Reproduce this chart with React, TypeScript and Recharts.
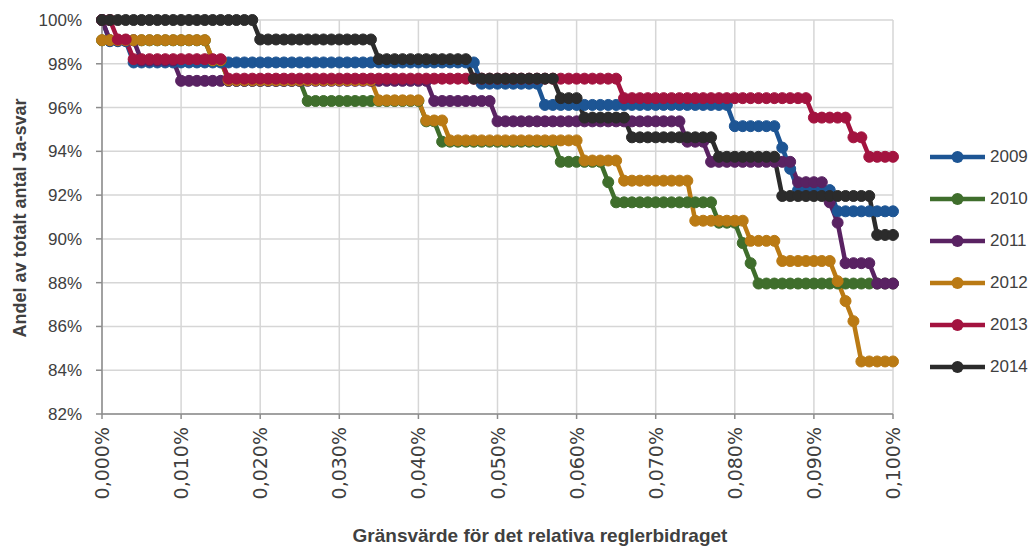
import { LineChart, Line, XAxis, YAxis, CartesianGrid, Label } from 'recharts';

// Gränsvärden 0,000% .. 0,100% i steg om 0,001%
const thresholds = Array.from({ length: 101 }, (_, i) => Number((i * 0.001).toFixed(3)));

// Andel Ja-svar som [värde i %, antal gränsvärden i följd med det värdet]
const runs2009 = [
  [100, 1], [99.03, 3], [98.06, 44], [97.09, 8], [96.12, 24], [95.15, 6],
  [94.17, 1], [93.2, 1], [92.23, 5], [91.26, 8],
];
const runs2010 = [
  [99.07, 14], [98.15, 2], [97.22, 10], [96.3, 15], [95.37, 2], [94.44, 15],
  [93.52, 6], [92.59, 1], [91.67, 13], [90.74, 3], [89.81, 1], [88.89, 1], [87.96, 18],
];
const runs2011 = [
  [100, 1], [99.07, 4], [98.15, 5], [97.22, 32], [96.3, 8], [95.37, 24],
  [94.44, 3], [93.52, 11], [92.59, 4], [91.67, 1], [90.74, 1], [88.89, 4], [87.96, 3],
];
const runs2012 = [
  [99.08, 14], [98.17, 2], [97.25, 19], [96.33, 6], [95.41, 3], [94.5, 17],
  [93.58, 5], [92.66, 9], [90.83, 7], [89.91, 4], [88.99, 7], [88.07, 1],
  [87.16, 1], [86.24, 1], [84.4, 5],
];
const runs2013 = [
  [100, 2], [99.11, 2], [98.21, 12], [97.32, 50], [96.43, 24], [95.54, 5],
  [94.64, 2], [93.75, 4],
];
const runs2014 = [
  [100, 20], [99.11, 15], [98.21, 12], [97.32, 11], [96.43, 3], [95.54, 6],
  [94.64, 11], [93.75, 8], [91.96, 12], [90.18, 3],
];

const xTicks = [0, 0.01, 0.02, 0.03, 0.04, 0.05, 0.06, 0.07, 0.08, 0.09, 0.1];
const yTicks = [82, 84, 86, 88, 90, 92, 94, 96, 98, 100];

const series = [
  { name: '2009', color: '#1d5594', runs: runs2009 },
  { name: '2010', color: '#3f6e2c', runs: runs2010 },
  { name: '2011', color: '#592262', runs: runs2011 },
  { name: '2012', color: '#ba7a14', runs: runs2012 },
  { name: '2013', color: '#a3133f', runs: runs2013 },
  { name: '2014', color: '#2b2b2b', runs: runs2014 },
];

const expand = (runs: number[][]) => runs.flatMap(([v, n]) => Array(n).fill(v));

const chartData = thresholds.map((x, i) => {
  const row: Record<string, number> = { x };
  series.forEach((s) => {
    row[s.name] = expand(s.runs)[i];
  });
  return row;
});

const formatX = (v: number) => v.toFixed(3).replace('.', ',') + '%';

const XTick = (props: any) => {
  const { x, y, payload } = props;
  return (
    <text
      transform={`translate(${x},${y}) rotate(-90)`}
      textAnchor="end"
      dominantBaseline="central"
      fill="#404040"
      fontSize={19}
      fontFamily="'DejaVu Sans', sans-serif"
    >
      {formatX(payload.value)}
    </text>
  );
};

export default function App() {
  return (
    <div
      style={{
        position: 'absolute',
        left: 0,
        top: 0,
        width: 1033,
        height: 548,
        background: '#fff',
        fontFamily: "'Liberation Sans', Arial, sans-serif",
      }}
    >
      <LineChart
        width={1033}
        height={548}
        data={chartData}
        margin={{ top: 20, right: 140, left: 0, bottom: 0 }}
      >
        <CartesianGrid stroke="#d6d6d6" strokeWidth={1.5} />
        <XAxis
          dataKey="x"
          type="number"
          domain={[0, 0.1]}
          ticks={xTicks}
          interval={0}
          height={134}
          tick={<XTick />}
          tickSize={5}
          tickMargin={8}
          axisLine={{ stroke: '#8c8c8c', strokeWidth: 1.5 }}
          tickLine={{ stroke: '#8c8c8c', strokeWidth: 1.5 }}
        >
          <Label
            content={() => (
              <text
                x={540}
                y={542}
                textAnchor="middle"
                fill="#404040"
                fontSize={19}
                fontWeight="bold"
                fontFamily="'Liberation Sans', Arial, sans-serif"
              >
                Gränsvärde för det relativa reglerbidraget
              </text>
            )}
          />
        </XAxis>
        <YAxis
          type="number"
          domain={[82, 100]}
          ticks={yTicks}
          interval={0}
          width={102}
          tickFormatter={(v: number) => `${v}%`}
          tick={{ fill: '#404040', fontSize: 17, fontFamily: "'Liberation Sans', Arial, sans-serif" }}
          tickSize={6}
          tickMargin={14}
          axisLine={{ stroke: '#8c8c8c', strokeWidth: 1.5 }}
          tickLine={{ stroke: '#8c8c8c', strokeWidth: 1.5 }}
        >
          <Label
            content={() => (
              <text
                transform="translate(20,218) rotate(-90)"
                textAnchor="middle"
                dominantBaseline="central"
                fill="#404040"
                fontSize={18}
                fontWeight="bold"
                fontFamily="'Liberation Sans', Arial, sans-serif"
              >
                Andel av totalt antal Ja-svar
              </text>
            )}
          />
        </YAxis>
        {series.map((s) => (
          <Line
            key={s.name}
            type="linear"
            dataKey={s.name}
            stroke={s.color}
            strokeWidth={4.5}
            dot={{ r: 5.5, fill: s.color, stroke: s.color, strokeWidth: 1 }}
            activeDot={false}
            isAnimationActive={false}
          />
        ))}
      </LineChart>
      <div style={{ position: 'absolute', left: 928, top: 136 }}>
        {series.map((s) => (
          <div key={s.name} style={{ display: 'flex', alignItems: 'center', height: 42 }}>
            <svg width={60} height={14}>
              <line x1={2} y1={7} x2={57} y2={7} stroke={s.color} strokeWidth={4.5} />
              <circle cx={29.5} cy={7} r={6} fill={s.color} />
            </svg>
            <span style={{ fontSize: 17, color: '#404040', marginLeft: 2 }}>{s.name}</span>
          </div>
        ))}
      </div>
    </div>
  );
}
